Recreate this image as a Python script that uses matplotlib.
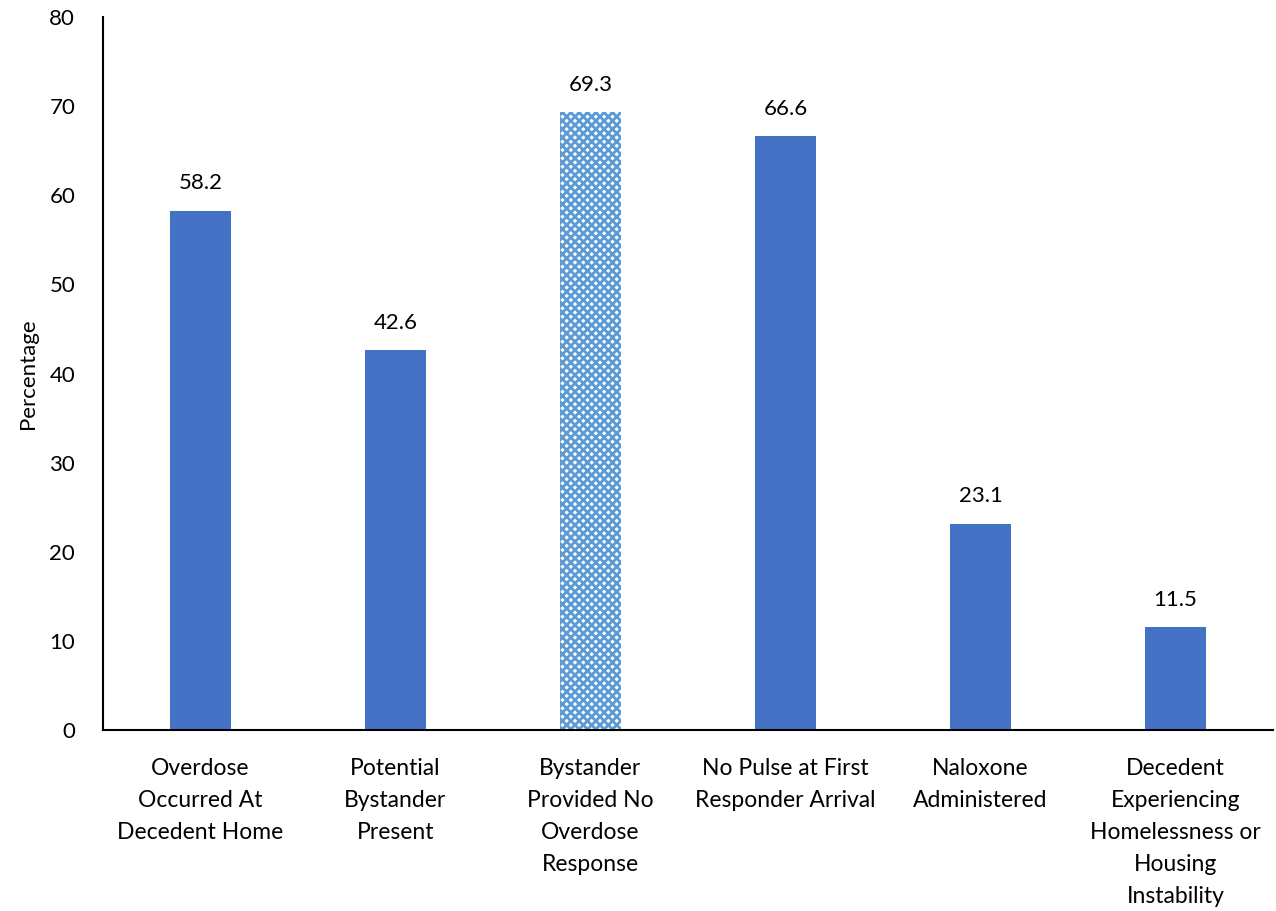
import matplotlib.pyplot as plt

categories = ["Overdose\nOccurred At\nDecedent Home",
              "Potential\nBystander\nPresent",
              "Bystander\nProvided No\nOverdose\nResponse",
              "No Pulse at First\nResponder Arrival",
              "Naloxone\nAdministered",
              "Decedent\nExperiencing\nHomelessness or\nHousing\nInstability"]
values = [58.2, 42.6, 69.3, 66.6, 23.1, 11.5]
hatched = [False, False, True, False, False, False]

plt.rcParams['font.family'] = ['Lato', 'DejaVu Sans']
plt.rcParams['hatch.linewidth'] = 2.0

fig = plt.figure(figsize=(12.76, 9.11), dpi=100)
ax = fig.add_axes([0.0807, 0.1987, 0.9169, 0.7826])

x = range(len(categories))
for i, (v, h) in enumerate(zip(values, hatched)):
    if h:
        ax.bar(i, v, width=0.31, facecolor='white', edgecolor='#5B9BD5',
               hatch='xxxx', linewidth=0)
    else:
        ax.bar(i, v, width=0.31, color='#4472C4')
    ax.text(i, v + 2.0, f"{v:.1f}", ha='center', va='bottom', fontsize=16)

ax.set_xlim(-0.5, 5.5)
ax.set_ylim(0, 80)
ax.set_yticks(range(0, 81, 10))
ax.set_xticks(list(x))
ax.set_xticklabels(categories, fontsize=16.5, linespacing=1.65, va='top')
ax.tick_params(axis='both', length=0)
ax.tick_params(axis='y', labelsize=16, pad=20)
ax.tick_params(axis='x', pad=20)
ax.spines['top'].set_visible(False)
ax.spines['right'].set_visible(False)
ax.spines['left'].set_linewidth(1.5)
ax.spines['bottom'].set_linewidth(1.5)
ax.set_ylabel("Percentage", fontsize=16, labelpad=8)

fig.savefig("out.png", dpi=100)
